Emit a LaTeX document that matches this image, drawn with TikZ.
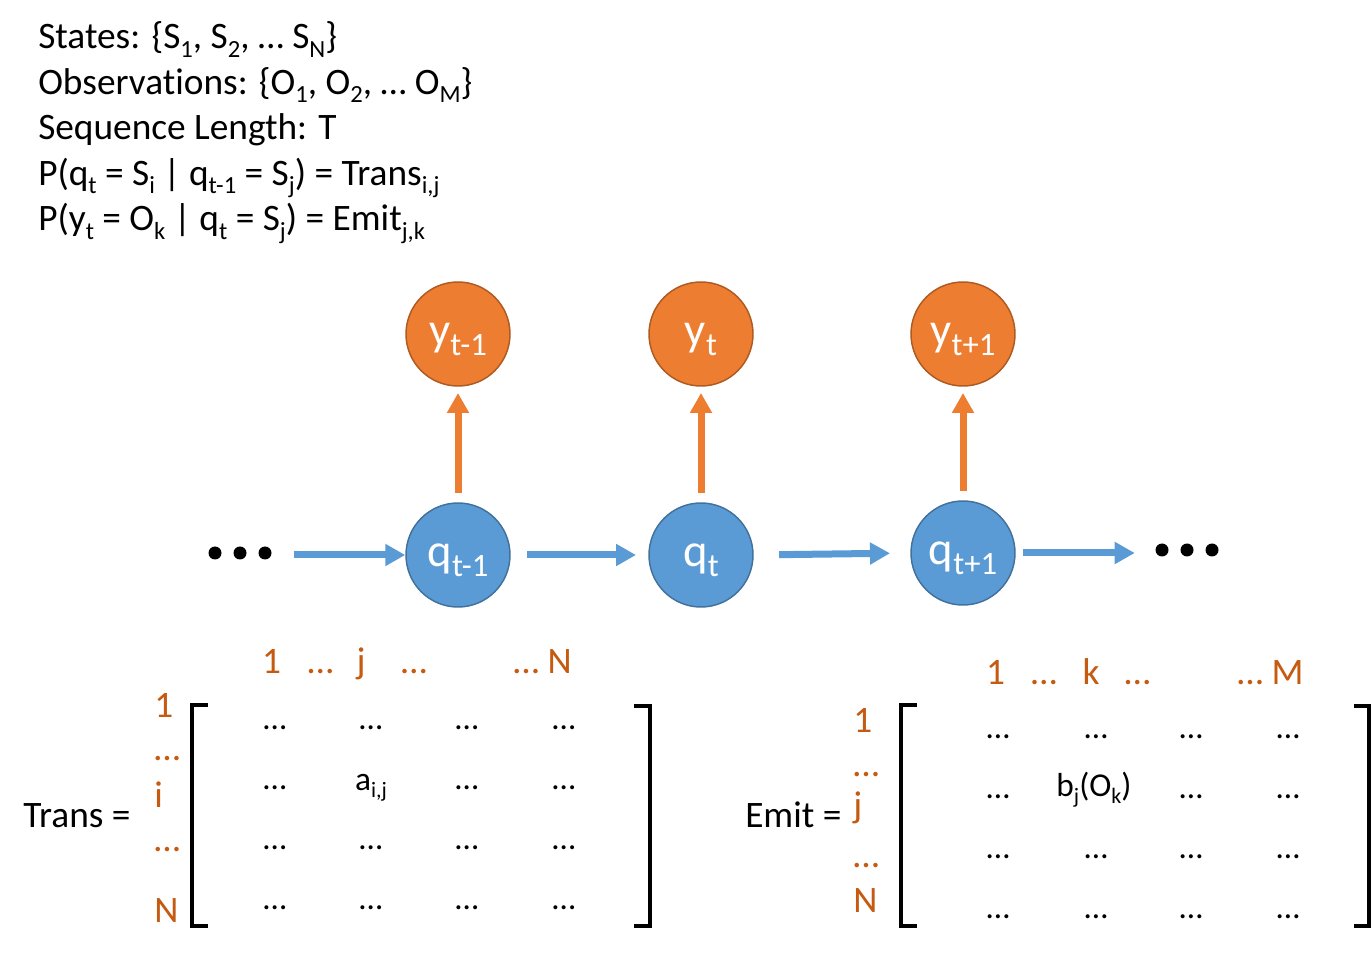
\documentclass[tikz,border=0pt]{standalone}
\usepackage{fontspec}
\setmainfont{Carlito}[Ligatures=NoCommon]
\usetikzlibrary{arrows.meta}
\definecolor{orf}{HTML}{ED7D31}
\definecolor{ord}{HTML}{AE5A21}
\definecolor{blf}{HTML}{5B9BD5}
\definecolor{bld}{HTML}{41719C}
\definecolor{lab}{HTML}{C55A11}
\newdimen\subdim
\def\subratio{0.66}
\makeatletter
\newcommand\sub[1]{\subdim=\f@size pt\relax\subdim=\subratio\subdim\raisebox{-0.22em}{\fontsize{\strip@pt\subdim}{0pt}\selectfont #1}}
\makeatother
\newcommand\clab[1]{\raisebox{-4pt}[\height][\depth]{#1}}
\begin{document}
\begin{tikzpicture}[x=0.75pt,y=-0.75pt,
  ttl/.style={anchor=base west, inner sep=0, font=\fontsize{28}{34}\selectfont},
  ycirc/.style={circle, fill=orf, draw=ord, line width=1.1pt, minimum size=78pt, inner sep=0, text=white, font=\fontsize{35}{40}\selectfont\def\subratio{0.7}},
  qcirc/.style={circle, fill=blf, draw=bld, line width=1.1pt, minimum size=78pt, inner sep=0, text=white, font=\fontsize{35}{40}\selectfont\def\subratio{0.7}},
  barrow/.style={draw=blf, line width=5.25pt, -{Triangle[length=15pt,width=15.75pt]}},
  oarrow/.style={draw=orf, line width=5.25pt, -{Triangle[length=15pt,width=15.75pt]}},
  brk/.style={draw=black, line width=2.6pt, line join=miter},
  lbl/.style={text=lab, inner sep=0, font=\fontsize{28}{34}\selectfont},
  ent/.style={inner sep=0, anchor=base, font=\fontsize{25}{30}\selectfont},
  dotgrp/.style={minimum width=47pt, minimum height=10pt, inner sep=0}]
\useasboundingbox (0,0) rectangle (1372,955);
\fill[white] (0,0) rectangle (1372,955);

% header text
\node[ttl] (l1) at (38,49) {States: \{S\sub{1}, S\sub{2}, … S\sub{N}\}};
\node[ttl] (l2) at (38,94.5) {Observations: \{O\sub{1}, O\sub{2}, … O\sub{M}\}};
\node[ttl] (l3) at (38,140) {Sequence Length: T};
\node[ttl] (l4) at (38,185.5) {P(q\sub{t} = S\sub{i} | q\sub{t-1} = S\sub{j}) = Trans\sub{i,j}};
\node[ttl] (l5) at (38,231) {P(y\sub{t} = O\sub{k} | q\sub{t} = S\sub{j}) = Emit\sub{j,k}};

% chain
\node[ycirc] (y1) at (458,334) {\clab{y\sub{t-1}}};
\node[ycirc] (y2) at (701,334) {\clab{y\sub{t}}};
\node[ycirc] (y3) at (963,334) {\clab{y\sub{t+1}}};
\node[qcirc] (q1) at (458,555) {\clab{q\sub{t-1}}};
\node[qcirc] (q2) at (701,555) {\clab{q\sub{t}}};
\node[qcirc] (q3) at (963,553) {\clab{q\sub{t+1}}};

\node[dotgrp] (dl) at (240,555) {};
\node[dotgrp] (dr) at (1187,553) {};
\foreach \x in {215,240,265} \fill (\x,553) circle[radius=6.5];
\foreach \x in {1162,1187,1212} \fill (\x,550) circle[radius=6.5];

\draw[barrow, shorten <=16.5pt] (dl.east) -- (q1.west);
\draw[barrow, shorten <=12.2pt, shorten >=9.2pt] (q1.east) -- (q2.west);
\draw[barrow, shorten <=19pt, shorten >=15.2pt] (q2.east) -- (q3.west);
\draw[barrow, shorten <=5.5pt, shorten >=15.5pt] (q3.east) -- (dr.west);

\draw[oarrow, shorten <=7pt, shorten >=4.7pt] (q1.north) -- (y1.south);
\draw[oarrow, shorten <=7pt, shorten >=4.7pt] (q2.north) -- (y2.south);
\draw[oarrow, shorten <=7pt, shorten >=4.7pt] (q3.north) -- (y3.south);

% Trans matrix
\node[ttl] (tr) at (23,827) {Trans =};
\draw[brk] (208,705) -- (192,705) -- (192,926) -- (208,926);
\draw[brk] (634,706) -- (650,706) -- (650,926) -- (634,926);
\node[lbl, anchor=base] (tc1) at (271.5,673) {1};
\node[lbl, anchor=base] (tc2) at (320.5,673) {…};
\node[lbl, anchor=base] (tc3) at (361,673) {j};
\node[lbl, anchor=base] (tc4) at (414,673) {…};
\node[lbl, anchor=base] (tc5) at (542.5,673) {… N};
\node[lbl, anchor=base west] (tr1) at (154,717) {1};
\node[lbl, anchor=base west] (tr2) at (154,760) {…};
\node[lbl, anchor=base west] (tr3) at (154,807) {i};
\node[lbl, anchor=base west] (tr4) at (154,851) {…};
\node[lbl, anchor=base west] (tr5) at (154,922) {N};
\foreach \c [count=\ci] in {275,371,467,564}
  \foreach \r [count=\ri] in {729,849,909}
    \node[ent] (ta\ri\ci) at (\c,\r) {…};
\foreach \c [count=\ci] in {275,467,564}
  \node[ent] (tb\ci) at (\c,789) {…};
\node[ent] (aij) at (371,790) {a\sub{i,j}};

% Emit matrix
\node[ttl] (em) at (745,827) {Emit =};
\draw[brk] (917,705) -- (901,705) -- (901,926) -- (917,926);
\draw[brk] (1354,706) -- (1369,706) -- (1369,926) -- (1354,926);
\node[lbl, anchor=base] (ec1) at (995.5,684) {1};
\node[lbl, anchor=base] (ec2) at (1044,684) {…};
\node[lbl, anchor=base] (ec3) at (1091,684) {k};
\node[lbl, anchor=base] (ec4) at (1137.5,684) {…};
\node[lbl, anchor=base] (ec5) at (1270.5,684) {… M};
\node[lbl, anchor=base west] (er1) at (853,732) {1};
\node[lbl, anchor=base west] (er2) at (853,776) {…};
\node[lbl, anchor=base west] (er3) at (853,817) {j};
\node[lbl, anchor=base west] (er4) at (853,867) {…};
\node[lbl, anchor=base west] (er5) at (853,912) {N};
\foreach \c [count=\ci] in {998,1096,1191,1288}
  \foreach \r [count=\ri] in {738,858,918}
    \node[ent] (ea\ri\ci) at (\c,\r) {…};
\foreach \c [count=\ci] in {998,1191,1288}
  \node[ent] (eb\ci) at (\c,798) {…};
\node[ent] (bjk) at (1094,796) {b\sub{j}(O\sub{k})};
\end{tikzpicture}
\end{document}
